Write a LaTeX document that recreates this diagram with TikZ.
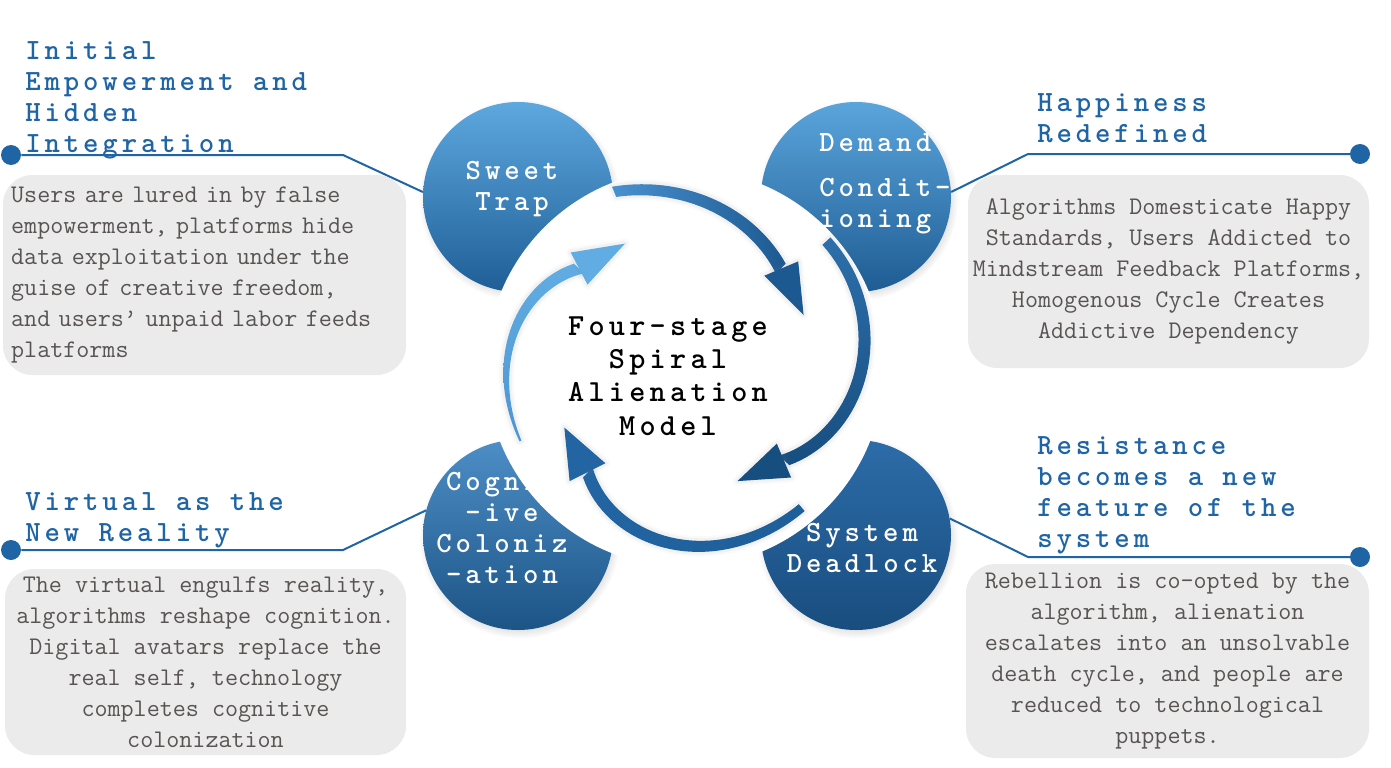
\documentclass[tikz,border=0pt]{standalone}
\usepackage{fontspec}
\usetikzlibrary{shadows}
\newfontfamily\headfont[LetterSpace=13.3]{lmmonolt10-bold.otf}
\newfontfamily\hubfont[LetterSpace=14]{lmmonolt10-bold.otf}

\definecolor{leadblue}{HTML}{1F65A5}
\definecolor{boxgray}{HTML}{EBEBEB}
\definecolor{bodytext}{HTML}{575452}
\definecolor{stA1}{HTML}{5DA8DF}
\definecolor{stA2}{HTML}{1F5E96}
\definecolor{stB1}{HTML}{5AA5DC}
\definecolor{stB2}{HTML}{1E5C93}
\definecolor{stC1}{HTML}{4D8EC6}
\definecolor{stC2}{HTML}{1C5486}
\definecolor{stD1}{HTML}{2C6CA8}
\definecolor{stD2}{HTML}{194D7F}
\definecolor{arcA1}{HTML}{4A90CF}
\definecolor{arcA2}{HTML}{1C5990}
\definecolor{arcB1}{HTML}{2D6FAB}
\definecolor{arcB2}{HTML}{174E80}
\definecolor{arcC1}{HTML}{1E5E99}
\definecolor{arcC2}{HTML}{2265A2}
\definecolor{arcD1}{HTML}{4F95D0}
\definecolor{arcD2}{HTML}{61ADE3}

\tikzset{
  stage/.style={circle, minimum size=142.5pt, inner sep=0pt,
    circular drop shadow={shadow scale=1.06, opacity=0.35, shadow xshift=1pt, shadow yshift=-2pt}},
  stagetext/.style={font=\headfont\fontsize{22pt}{23.25pt}\selectfont, text=white, align=center, inner sep=0pt},
  heading/.style={font=\headfont\fontsize{22pt}{23.25pt}\selectfont, text=leadblue, align=left, inner sep=0pt, anchor=base west},
  notebox/.style={fill=boxgray, rounded corners=22pt, inner sep=0pt, font=\ttfamily\fontsize{19pt}{23.25pt}\selectfont, text=bodytext},
  leader/.style={draw=leadblue, line width=1.5pt},
  enddot/.style={circle, fill=leadblue, minimum size=15pt, inner sep=0pt},
  hubtext/.style={font=\hubfont\fontsize{23pt}{25pt}\selectfont, align=center, inner sep=0pt, anchor=base},
  soft/.style={preaction={draw=black!50, line width=7pt, opacity=0.04, line join=round},
    preaction={draw=black!50, line width=4pt, opacity=0.06, line join=round}}
}

\begin{document}
\begin{tikzpicture}[x=0.75pt, y=-0.75pt]

\useasboundingbox (0,0) rectangle (1391,767);

% STAGES
\node[stage, top color=stA1, bottom color=stA2] (sweet) at (518,197) {};
\node[stage, top color=stB1, bottom color=stB2] (demand) at (856,197) {};
\node[stage, top color=stC1, bottom color=stC2] (cogn) at (518,535) {};
\node[stage, top color=stD1, bottom color=stD2] (dead) at (856,535) {};

% HUB
\coordinate (hub) at (685,368);
\fill[white] (hub) circle (199);

% SPIRAL
\foreach \a/\b/\ra/\rb/\p/\wa/\wb/\ca/\cb/\sa in {
  112/46/190/138/1/11/14/arcA1/arcA2/90,
  42/-43/190/135.5/2/11/14/arcB1/arcB2/0,
  -50/-133/182/142.6/3/9/14/arcC1/arcC2/-90,
  204/136.8/180/145.4/3/2/14/arcD1/arcD2/180}
  \shade[soft, top color=\ca, bottom color=\cb, shading angle=\sa]
    plot[variable=\t, domain=0.001:1, samples=40]
      ({685+((\ra)+((\rb)-(\ra))*pow(\t,\p)+((\wa)+((\wb)-(\wa))*\t)/2)*cos((\a)+((\b)-(\a))*\t)},
       {368-((\ra)+((\rb)-(\ra))*pow(\t,\p)+((\wa)+((\wb)-(\wa))*\t)/2)*sin((\a)+((\b)-(\a))*\t)})
    -- plot[variable=\t, domain=1:0.001, samples=40]
      ({685+((\ra)+((\rb)-(\ra))*pow(\t,\p)-((\wa)+((\wb)-(\wa))*\t)/2)*cos((\a)+((\b)-(\a))*\t)},
       {368-((\ra)+((\rb)-(\ra))*pow(\t,\p)-((\wa)+((\wb)-(\wa))*\t)/2)*sin((\a)+((\b)-(\a))*\t)})
    -- cycle;

% HEADS
\fill[soft, arcA2] (764.3,275.7) -- (803.6,315) -- (798.2,261.4) -- cycle;
\fill[soft, arcB2] (776.8,443.6) -- (737.5,481.1) -- (791.1,477.5) -- cycle;
\fill[soft, arcC2] (605.4,463.2) -- (564.3,427.5) -- (569.6,481.1) -- cycle;
\fill[soft, arcD2] (570.7,252.5) -- (625,243.6) -- (587.5,284.6) -- cycle;

% STAGE LABELS
\node[stagetext, anchor=base] (sweetlbl) at (512,210) {Sweet\\Trap};
\node[stagetext, align=left, anchor=base west] (demandlbl) at (819,227) {Demand\\[10.5pt]Condit-\\ioning};
\node[stagetext, anchor=base] (cognlbl) at (502,583) {Cognit\\-ive\\Coloniz\\-ation};
\node[stagetext, anchor=base] (deadlbl) at (862,572) {System\\Deadlock};

\node[hubtext] (model) at (668,435) {Four-stage\\Spiral\\Alienation\\Model};

% HEADINGS
\node[heading] (headTL) at (25,152) {Initial\\Empowerment and\\Hidden\\Integration};
\node[heading] (headTR) at (1037,142) {Happiness\\Redefined};
\node[heading] (headBL) at (25,541) {Virtual as the\\New Reality};
\node[heading] (headBR) at (1037,547) {Resistance\\becomes a new\\feature of the\\system};

% LEADERS
\node[enddot] (dotTL) at (11,155) {};
\node[enddot] (dotTR) at (1360,154) {};
\node[enddot] (dotBL) at (11,550) {};
\node[enddot] (dotBR) at (1360,557) {};
\coordinate (kneeTL) at (343,155);
\coordinate (kneeTR) at (1028,154);
\coordinate (kneeBL) at (343,550);
\coordinate (kneeBR) at (1028,557);
\draw[leader] (dotTL) -- (kneeTL) -- (sweet.177);
\draw[leader] (dotTR) -- (kneeTR) -- (demand.3);
\draw[leader] (dotBL) -- (kneeBL) -- (cogn.165);
\draw[leader] (dotBR) -- (kneeBR) -- (dead.10);

% NOTES
\node[notebox, align=left, text width=290pt, inner xsep=6pt, minimum width=302.25pt, minimum height=150pt] (noteTL) at (204.5,275)
  {Users are lured in by false\\empowerment, platforms hide\\data exploitation under the\\guise of creative freedom,\\and users’ unpaid labor feeds\\platforms};
\node[notebox, align=center, minimum width=300.75pt, minimum height=144.75pt] (noteTR) at (1168.5,271.5)
  {Algorithms Domesticate Happy\\Standards, Users Addicted to\\Mindstream Feedback Platforms,\\Homogenous Cycle Creates\\Addictive Dependency};
\node[notebox, align=center, minimum width=300.75pt, minimum height=139.5pt] (noteBL) at (205.5,662)
  {The virtual engulfs reality,\\algorithms reshape cognition.\\Digital avatars replace the\\real self, technology\\completes cognitive\\colonization};
\node[notebox, align=center, minimum width=302.25pt, minimum height=145.5pt] (noteBR) at (1167.5,661)
  {Rebellion is co-opted by the\\algorithm, alienation\\escalates into an unsolvable\\death cycle, and people are\\reduced to technological\\puppets.};

\end{tikzpicture}
\end{document}
